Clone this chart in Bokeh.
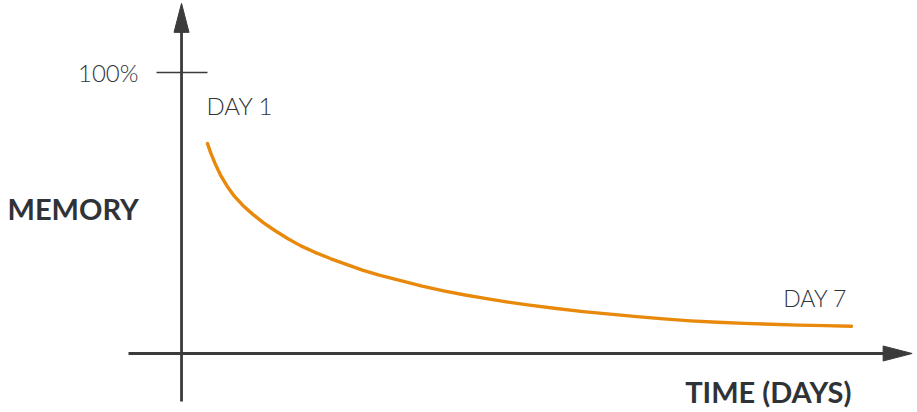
from bokeh.plotting import figure
from bokeh.models import Range1d, ColumnDataSource, Label
from bokeh.embed import file_html
from bokeh.resources import INLINE

# ---- data ----
days = [1.00, 1.03, 1.07, 1.12, 1.18, 1.25, 1.33, 1.42, 1.52, 1.62, 1.75, 1.87, 2.0, 2.15, 2.3,
        2.45, 2.6, 2.8, 3.0, 3.2, 3.4, 3.6, 3.8, 4.0, 4.25, 4.5, 4.75, 5.0, 5.25, 5.5, 5.75,
        6.0, 6.25, 6.5, 6.75, 7.0]
memory = [74.7, 71.4, 67.65, 63.6, 59.7, 56.0, 52.7, 49.6, 46.6, 43.95, 40.85, 38.3, 36.0, 33.7, 31.6,
          29.6, 27.9, 25.9, 24.0, 22.3, 20.8, 19.5, 18.3, 17.2, 16.0, 14.9, 14.0, 13.1, 12.3, 11.6, 11.1,
          10.7, 10.4, 10.1, 9.9, 9.7]
y_tick_value = 100
y_tick_label = "100%"
start_label = "DAY 1"
end_label = "DAY 7"
y_title = "MEMORY"
x_title = "TIME (DAYS)"

# ---- layout constants ----
W, H = 917, 412
X0, X1 = -0.9286, 7.615
Y0, Y1 = -21.0, 125.62
px_day = W / (X1 - X0)
px_pct = H / (Y1 - Y0)

AXIS_COLOR = "#3b3b3b"
TEXT_COLOR = "#2f3337"
CURVE_COLOR = "#E8890C"
LIGHT_FONT = "Lato Light, Lato"
BOLD_FONT = "Lato"

p = figure(width=W, height=H, x_range=Range1d(X0, X1), y_range=Range1d(Y0, Y1),
           output_backend="svg", toolbar_location=None, min_border=0)
p.axis.visible = False
p.grid.visible = False
p.outline_line_color = None
p.background_fill_color = "white"
p.border_fill_color = "white"

# y axis (vertical arrow)
yx = 0.758
y_bot, y_top = -17.1, 124.6
head_len, head_half = 29, 7.5
p.line([yx, yx], [y_bot, y_top - head_len / px_pct + 0.5], line_color=AXIS_COLOR, line_width=2.8)
p.patch([yx - head_half / px_day, yx, yx + head_half / px_day],
        [y_top - head_len / px_pct, y_top, y_top - head_len / px_pct],
        fill_color=AXIS_COLOR, line_color=AXIS_COLOR, line_width=1)

# x axis (horizontal arrow)
xy = 0.0
x_left, x_right = 0.264, 7.565
p.line([x_left, x_right - head_len / px_day + 0.05], [xy, xy], line_color=AXIS_COLOR, line_width=2.8)
p.patch([x_right - head_len / px_day, x_right, x_right - head_len / px_day],
        [xy + head_half / px_pct, xy, xy - head_half / px_pct],
        fill_color=AXIS_COLOR, line_color=AXIS_COLOR, line_width=1)

# 100% tick
p.line([0.525, 1.0], [y_tick_value, y_tick_value], line_color=AXIS_COLOR, line_width=1.4)

# curve
src = ColumnDataSource(dict(day=days, mem=memory))
p.line("day", "mem", source=src, line_color=CURVE_COLOR, line_width=3.4, line_cap="round",
       line_join="round")

# texts
p.add_layout(Label(x=0.357, y=y_tick_value, text=y_tick_label, text_align="right", text_baseline="middle",
                   text_font=LIGHT_FONT, text_font_size="24px", text_color=TEXT_COLOR))
p.add_layout(Label(x=days[0] - 0.01, y=88.2, text=start_label, text_align="left", text_baseline="alphabetic",
                   text_font=LIGHT_FONT, text_font_size="24px", text_color=TEXT_COLOR))
p.add_layout(Label(x=days[-1] - 0.04, y=19.8, text=end_label, text_align="right", text_baseline="alphabetic",
                   text_font=LIGHT_FONT, text_font_size="23px", text_color=TEXT_COLOR))
p.add_layout(Label(x=X0 + 7 / px_day, y=51.6, text=y_title, text_align="left", text_baseline="alphabetic",
                   text_font=BOLD_FONT, text_font_style="bold", text_font_size="29px", text_color=TEXT_COLOR))
p.add_layout(Label(x=days[-1], y=-13.4, text=x_title, text_align="right", text_baseline="alphabetic",
                   text_font=BOLD_FONT, text_font_style="bold", text_font_size="29px", text_color=TEXT_COLOR))

open("out.html", "w").write(file_html(p, INLINE))
